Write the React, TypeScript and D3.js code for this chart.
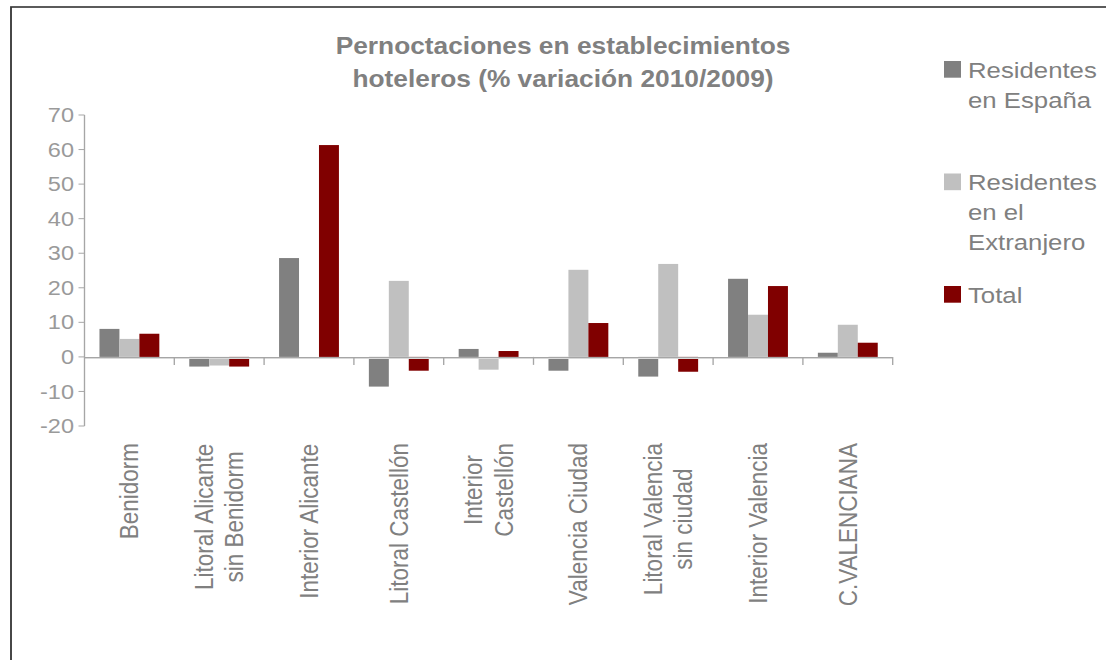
import { scaleBand, scaleLinear } from "d3";

const categories = [
  "Benidorm",
  "Litoral Alicante sin Benidorm",
  "Interior Alicante",
  "Litoral Castellón",
  "Interior Castellón",
  "Valencia Ciudad",
  "Litoral Valencia sin ciudad",
  "Interior Valencia",
  "C.VALENCIANA",
];

const categoryLines = [
  ["Benidorm"],
  ["Litoral Alicante", "sin Benidorm"],
  ["Interior Alicante"],
  ["Litoral Castellón"],
  ["Interior", "Castellón"],
  ["Valencia Ciudad"],
  ["Litoral Valencia", "sin ciudad"],
  ["Interior Valencia"],
  ["C.VALENCIANA"],
];

const residentesEspana = [8.1, -2.8, 28.6, -8.6, 2.3, -4.0, -5.7, 22.6, 1.2];
const residentesExtranjero = [5.2, -2.5, 0, 22.0, -3.7, 25.2, 26.9, 12.2, 9.3];
const total = [6.7, -2.8, 61.3, -4.0, 1.7, 9.8, -4.3, 20.5, 4.1];

const seriesNames = ["Residentes en España", "Residentes en el Extranjero", "Total"];
const legendLines = [["Residentes", "en España"], ["Residentes", "en el", "Extranjero"], ["Total"]];
const seriesColors = ["#808080", "#c0c0c0", "#800000"];
const seriesValues = [residentesEspana, residentesExtranjero, total];

const yTicks = [-20, -10, 0, 10, 20, 30, 40, 50, 60, 70];
const titleLines = ["Pernoctaciones en establecimientos", "hoteleros (% variación 2010/2009)"];

// the picture is stretched horizontally, so the whole svg is drawn in a narrower viewBox
const SX = 1.12;
const W = 1106;
const H = 660;
const FONT = "'Liberation Sans', Arial, sans-serif";

function measure(text: string, size: number) {
  const ctx = document.createElement("canvas").getContext("2d");
  if (!ctx) return text.length * size * 0.5;
  ctx.font = `${size}px ${FONT}`;
  return ctx.measureText(text).width;
}

export default function App() {
  const x0 = scaleBand<string>()
    .domain(categories)
    .range([84.5 / SX, 892.7 / SX]);

  const x1 = scaleBand<string>()
    .domain(seriesNames)
    .range([0, x0.bandwidth()])
    .paddingOuter(0.75);

  const y = scaleLinear().domain([-20, 70]).range([426, 115]);

  const axisX = 84.5 / SX;
  const catSize = 22.5;
  const lineH = 27;

  return (
    <svg
      width={W}
      height={H}
      viewBox={`0 0 ${W / SX} ${H}`}
      preserveAspectRatio="none"
      style={{ position: "absolute", left: 0, top: 0, background: "#fff" }}
      fontFamily={FONT}
    >
      <rect x={0} y={0} width={W / SX} height={H} fill="#fff" />
      {/* outer frame, runs off the right and bottom */}
      <rect
        x={11 / SX}
        y={7}
        width={W}
        height={H}
        fill="none"
        stroke="#333"
        strokeWidth={1.6}
      />

      {/* title */}
      {titleLines.map((t, i) => (
        <text
          key={i}
          x={563 / SX}
          y={54 + i * 33}
          textAnchor="middle"
          fontSize={23.5}
          fontWeight="bold"
          fill="#808080"
        >
          {t}
        </text>
      ))}

      {/* bars */}
      {categories.map((c, ci) => (
        <g key={c} transform={`translate(${x0(c)},0)`}>
          {seriesNames.map((s, si) => {
            const v = seriesValues[si][ci];
            return (
              <rect
                key={s}
                x={x1(s)}
                width={x1.bandwidth()}
                y={Math.min(y(v), y(0))}
                height={Math.abs(y(v) - y(0))}
                fill={seriesColors[si]}
              />
            );
          })}
        </g>
      ))}

      {/* zero line + category ticks */}
      <line x1={axisX} x2={892.7 / SX} y1={y(0) + 0.5} y2={y(0) + 0.5} stroke="#a6a6a6" strokeWidth={1} />
      <line x1={axisX} x2={892.7 / SX} y1={y(0) + 1.5} y2={y(0) + 1.5} stroke="#d9d9d9" strokeWidth={1} />
      {[...categories.map((c) => x0(c) as number), (x0(categories[categories.length - 1]) as number) + x0.bandwidth()]
        .slice(1)
        .map((xv, i) => (
          <line key={i} x1={xv} x2={xv} y1={y(0)} y2={y(0) + 8} stroke="#a6a6a6" strokeWidth={1.2} />
        ))}

      {/* y axis */}
      <line x1={axisX} x2={axisX} y1={y(70)} y2={y(-20)} stroke="#a6a6a6" strokeWidth={1.2} />
      {yTicks.map((t) => (
        <g key={t} transform={`translate(0,${y(t)})`}>
          <line x1={axisX - 6 / SX} x2={axisX} stroke="#a6a6a6" strokeWidth={1} />
          <text
            x={74 / SX}
            textAnchor="end"
            dominantBaseline="central"
            fontSize={21}
            fill="#9a9a9a"
          >
            {t}
          </text>
        </g>
      ))}

      {/* category labels, rotated */}
      {categories.map((c, ci) => {
        const lines = categoryLines[ci];
        const maxLen = Math.max(...lines.map((l) => measure(l, catSize)));
        const cx = (x0(c) as number) + x0.bandwidth() / 2;
        return (
          <g key={c} transform={`translate(${cx},443) rotate(-90)`}>
            {lines.map((l, li) => (
              <text
                key={li}
                x={-maxLen / 2}
                y={(li - (lines.length - 1) / 2) * lineH}
                textAnchor="middle"
                dominantBaseline="central"
                fontSize={catSize}
                fill="#808080"
              >
                {l}
              </text>
            ))}
          </g>
        );
      })}

      {/* legend */}
      {seriesNames.map((s, si) => {
        const top = 61 + si * 112.5;
        return (
          <g key={s}>
            <rect x={944 / SX} y={top} width={17 / SX} height={16.7} fill={seriesColors[si]} />
            {legendLines[si].map((l, li) => (
              <text key={li} x={968 / SX} y={top + 16.7 + li * 30} fontSize={23} fill="#808080">
                {l}
              </text>
            ))}
          </g>
        );
      })}
    </svg>
  );
}
